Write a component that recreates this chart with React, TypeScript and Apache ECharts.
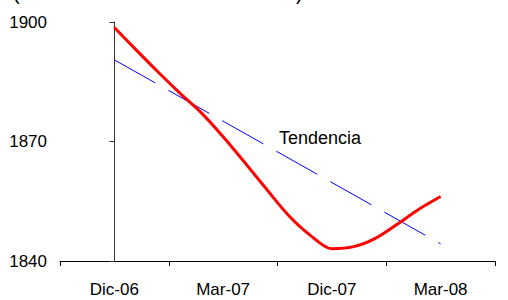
import React, { useEffect, useRef } from "react";
import * as echarts from "echarts";

const categories = ["Dic-06", "Mar-07", "Dic-07", "Mar-08"];
const monthIndex = [0, 1, 2, 3, 4, 5, 6, 7, 8, 9, 10, 11, 12, 13, 14, 15];
const values = [
  1898.6, 1893.0, 1887.5, 1882.2, 1877.2, 1871.2, 1864.7, 1858.0,
  1851.5, 1846.5, 1843.1, 1843.6, 1845.7, 1849.2, 1853.0, 1856.2,
];
const trendX = [0, 15];
const trendValues = [1890.5, 1844.3];
const yTicks = [1840, 1870, 1900];
const trendLabel = "Tendencia";

const FONT = "Liberation Sans";

export default function App() {
  const ref = useRef<HTMLDivElement>(null);
  useEffect(() => {
    if (!ref.current) return;
    const chart = echarts.init(ref.current, null, { renderer: "svg" });
    const last = values.length - 1;
    const fmt = (v: number) => Math.round(v).toLocaleString("en-US");
    chart.setOption({
      animation: false,
      backgroundColor: "#fff",
      grid: { left: 60, right: 13, top: 22, bottom: 39 },
      xAxis: [
        {
          type: "category",
          data: categories,
          boundaryGap: true,
          axisLine: { lineStyle: { color: "#000", width: 1 } },
          axisTick: { show: true, length: 5, lineStyle: { color: "#000" } },
          axisLabel: { color: "#000", fontFamily: FONT, fontSize: 17, margin: 20 },
          splitLine: { show: false },
        },
        {
          type: "value",
          min: -2.5,
          max: 17.5,
          show: false,
        },
      ],
      yAxis: {
        type: "value",
        min: yTicks[0],
        max: yTicks[yTicks.length - 1],
        interval: 30,
        axisLine: { show: true, lineStyle: { color: "#333", width: 1 } },
        axisTick: { show: true, length: 5, lineStyle: { color: "#333" } },
        axisLabel: {
          color: "#000",
          fontFamily: FONT,
          fontSize: 17,
          margin: 13,
          formatter: (v: number) => String(v),
        },
        splitLine: { show: false },
      },
      series: [
        {
          type: "line",
          xAxisIndex: 1,
          data: trendX.map((x, i) => [x, trendValues[i]]),
          symbol: "none",
          lineStyle: { color: "#0000FF", width: 1, type: [47, 15] },
          z: 2,
        },
        {
          type: "line",
          xAxisIndex: 1,
          data: monthIndex.map((x, i) => {
            const item: any = { value: [x, values[i]] };
            if (i === 0 || i === last) {
              item.label = {
                show: true,
                position: "right",
                distance: 20,
                formatter: () => fmt(values[i]),
                color: "#000",
                fontFamily: FONT,
                fontSize: 18,
              };
            }
            return item;
          }),
          symbol: "none",
          smooth: 0.3,
          lineStyle: { color: "#FF0000", width: 3 },
          z: 3,
        },
      ],
      graphic: [
        {
          type: "text",
          left: 279,
          top: 129,
          style: { text: trendLabel, fontFamily: FONT, fontSize: 18, fill: "#000" },
        },
        {
          type: "text",
          left: 13,
          top: -17,
          style: { text: "(", fontFamily: FONT, fontSize: 20, fill: "#000" },
        },
        {
          type: "text",
          left: 296,
          top: -17,
          style: { text: ")", fontFamily: FONT, fontSize: 20, fill: "#000" },
        },
      ],
    });
    return () => chart.dispose();
  }, []);
  return <div ref={ref} style={{ width: 508, height: 300, position: "absolute", left: 0, top: 0 }} />;
}
